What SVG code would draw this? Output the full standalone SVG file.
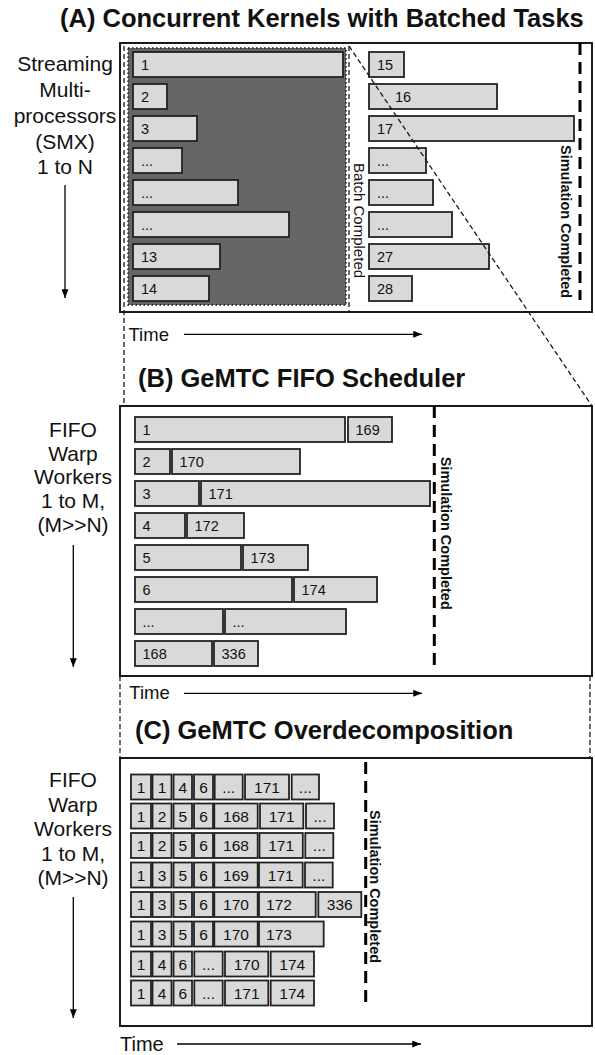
<svg xmlns="http://www.w3.org/2000/svg" width="595" height="1055" viewBox="0 0 595 1055">
  <defs>
    <marker id="arrow" viewBox="0 0 10 8" refX="10" refY="4" markerWidth="9" markerHeight="7" markerUnits="userSpaceOnUse" orient="auto">
      <path d="M0,0 L10,4 L0,8 z" fill="#000"/>
    </marker>
  </defs>
  <style>
    text { font-family: "Liberation Sans", Arial, sans-serif; fill: #111; }
    .title { font-size: 25.5px; font-weight: bold; }
    .side { font-size: 21px; text-anchor: middle; }
    .time { font-size: 18.5px; }
    .panel { fill: #fff; stroke: #1a1a1a; stroke-width: 2; }
    .bar { fill: #d9d9d9; stroke: #222; stroke-width: 1.8; }
    .t { font-size: 14.5px; }
    .c { font-size: 15.5px; text-anchor: middle; }
    .sim { stroke: #000; stroke-width: 3; stroke-dasharray: 12 7; fill: none; }
    .simtxt { font-size: 14.5px; font-weight: bold; }
    .lens { stroke: #1a1a1a; stroke-width: 1.3; stroke-dasharray: 5 3; fill: none; }
    .axis { stroke: #000; stroke-width: 1.3; fill: none; }
  </style>

  <!-- titles -->
  <text class="title" x="60" y="27">(A) Concurrent Kernels with Batched Tasks</text>
  <text class="title" x="138" y="387">(B) GeMTC FIFO Scheduler</text>
  <text class="title" x="135" y="738.5">(C) GeMTC Overdecomposition</text>

  <!-- side labels and worker axes -->
  <g id="axis-a">
    <text class="side" x="65" y="71">Streaming</text>
    <text class="side" x="65" y="97">Multi-</text>
    <text class="side" x="65" y="122.5">processors</text>
    <text class="side" x="65" y="148.5">(SMX)</text>
    <text class="side" x="65" y="174">1 to N</text>
    <line class="axis" x1="65" y1="185" x2="65" y2="298" marker-end="url(#arrow)"/>
    <text class="time" x="128.5" y="340.7">Time</text>
    <line class="axis" x1="184" y1="334.3" x2="422" y2="334.3" marker-end="url(#arrow)"/>
  </g>
  <g id="axis-b">
    <text class="side" x="73" y="436.5">FIFO</text>
    <text class="side" x="73" y="460.5">Warp</text>
    <text class="side" x="73" y="484">Workers</text>
    <text class="side" x="73" y="508">1 to M,</text>
    <text class="side" x="73" y="532">(M&gt;&gt;N)</text>
    <line class="axis" x1="73.3" y1="545" x2="73.3" y2="667" marker-end="url(#arrow)"/>
    <text class="time" x="129.3" y="699">Time</text>
    <line class="axis" x1="184" y1="693.3" x2="422" y2="693.3" marker-end="url(#arrow)"/>
  </g>
  <g id="axis-c">
    <text class="side" x="73" y="787">FIFO</text>
    <text class="side" x="73" y="811.5">Warp</text>
    <text class="side" x="73" y="836">Workers</text>
    <text class="side" x="73" y="860.5">1 to M,</text>
    <text class="side" x="73" y="885">(M&gt;&gt;N)</text>
    <line class="axis" x1="73.3" y1="897" x2="73.3" y2="1018" marker-end="url(#arrow)"/>
    <text class="time" x="120" y="1051" style="font-size:20px">Time</text>
    <line class="axis" x1="177" y1="1044" x2="421" y2="1044" marker-end="url(#arrow)"/>
  </g>

  <!-- (A) concurrent kernels -->
  <g id="panel-a">
    <rect class="panel" x="120" y="43" width="472" height="269"/>
    <rect x="128" y="48" width="218" height="257" fill="#666" stroke="#111" stroke-width="1.5" stroke-dasharray="1.5 2.5"/>
    <g id="batch-1">
      <rect class="bar" x="133" y="52" width="210" height="25"/><text class="t" x="141" y="69.5">1</text>
      <rect class="bar" x="133" y="84" width="34" height="25"/><text class="t" x="141" y="101.5">2</text>
      <rect class="bar" x="133" y="116" width="64" height="25"/><text class="t" x="141" y="133.5">3</text>
      <rect class="bar" x="133" y="148" width="49" height="25"/><text class="t" x="141" y="165.5">...</text>
      <rect class="bar" x="133" y="180" width="105" height="25"/><text class="t" x="141" y="197.5">...</text>
      <rect class="bar" x="133" y="212" width="156" height="25"/><text class="t" x="141" y="229.5">...</text>
      <rect class="bar" x="133" y="244" width="87" height="25"/><text class="t" x="141" y="261.5">13</text>
      <rect class="bar" x="133" y="276" width="76" height="25"/><text class="t" x="141" y="293.5">14</text>
    </g>
    <g id="batch-2">
      <rect class="bar" x="369" y="52" width="35" height="25"/><text class="t" x="377" y="69.5">15</text>
      <rect class="bar" x="369" y="84" width="128" height="25"/><text class="t" x="395" y="101.5">16</text>
      <rect class="bar" x="369" y="116" width="205" height="25"/><text class="t" x="377" y="133.5">17</text>
      <rect class="bar" x="369" y="148" width="57" height="25"/><text class="t" x="377" y="165.5">...</text>
      <rect class="bar" x="369" y="180" width="64" height="25"/><text class="t" x="377" y="197.5">...</text>
      <rect class="bar" x="369" y="212" width="83" height="25"/><text class="t" x="377" y="229.5">...</text>
      <rect class="bar" x="369" y="244" width="120" height="25"/><text class="t" x="377" y="261.5">27</text>
      <rect class="bar" x="369" y="276" width="43" height="25"/><text class="t" x="377" y="293.5">28</text>
    </g>
    <text x="354" y="163" transform="rotate(90 354 163)" style="font-size:15px">Batch Completed</text>
    <line class="sim" x1="580" y1="43" x2="580" y2="300"/>
    <text class="simtxt" x="561" y="145" transform="rotate(90 561 145)">Simulation Completed</text>
  </g>

  <!-- (B) FIFO scheduler -->
  <g id="panel-b">
    <rect class="panel" x="120" y="406" width="472" height="270"/>
    <rect class="bar" x="135" y="417" width="210" height="25"/><text class="t" x="142.5" y="434.5">1</text>
    <rect class="bar" x="348" y="417" width="44" height="25"/><text class="t" x="355.5" y="434.5">169</text>
    <rect class="bar" x="135" y="449" width="35" height="25"/><text class="t" x="142.5" y="466.5">2</text>
    <rect class="bar" x="172" y="449" width="128" height="25"/><text class="t" x="179.5" y="466.5">170</text>
    <rect class="bar" x="135" y="481" width="64" height="25"/><text class="t" x="142.5" y="498.5">3</text>
    <rect class="bar" x="201" y="481" width="229" height="25"/><text class="t" x="208.5" y="498.5">171</text>
    <rect class="bar" x="135" y="513" width="50" height="25"/><text class="t" x="142.5" y="530.5">4</text>
    <rect class="bar" x="187" y="513" width="57" height="25"/><text class="t" x="194.5" y="530.5">172</text>
    <rect class="bar" x="135" y="545" width="106" height="25"/><text class="t" x="142.5" y="562.5">5</text>
    <rect class="bar" x="243" y="545" width="65" height="25"/><text class="t" x="250.5" y="562.5">173</text>
    <rect class="bar" x="135" y="577" width="157" height="25"/><text class="t" x="142.5" y="594.5">6</text>
    <rect class="bar" x="294" y="577" width="83" height="25"/><text class="t" x="301.5" y="594.5">174</text>
    <rect class="bar" x="135" y="609" width="88" height="25"/><text class="t" x="142.5" y="626.5">...</text>
    <rect class="bar" x="225" y="609" width="121" height="25"/><text class="t" x="232.5" y="626.5">...</text>
    <rect class="bar" x="135" y="641" width="77" height="25"/><text class="t" x="142.5" y="658.5">168</text>
    <rect class="bar" x="214" y="641" width="44" height="25"/><text class="t" x="221.5" y="658.5">336</text>
    <line class="sim" x1="434.3" y1="406" x2="434.3" y2="665"/>
    <text class="simtxt" x="440.5" y="456.7" transform="rotate(90 440.5 456.7)">Simulation Completed</text>
  </g>

  <!-- (C) overdecomposition -->
  <g id="panel-c">
    <rect class="panel" x="120" y="758" width="472" height="268"/>
    <g id="row-c1">
      <rect class="bar" x="131" y="774.5" width="20" height="25"/><text class="c" x="141" y="792.5">1</text>
      <rect class="bar" x="152.5" y="774.5" width="19" height="25"/><text class="c" x="162" y="792.5">1</text>
      <rect class="bar" x="173.5" y="774.5" width="18.5" height="25"/><text class="c" x="182.8" y="792.5">4</text>
      <rect class="bar" x="194" y="774.5" width="19" height="25"/><text class="c" x="203.5" y="792.5">6</text>
      <rect class="bar" x="214.7" y="774.5" width="28" height="25"/><text class="c" x="228.7" y="792.5">...</text>
      <rect class="bar" x="245" y="774.5" width="44" height="25"/><text class="c" x="267" y="792.5">171</text>
      <rect class="bar" x="291.7" y="774.5" width="27.3" height="25"/><text class="c" x="305.3" y="792.5">...</text>
    </g>
    <g id="row-c2">
      <rect class="bar" x="131" y="803.5" width="20" height="25"/><text class="c" x="141" y="821.5">1</text>
      <rect class="bar" x="152.5" y="803.5" width="19" height="25"/><text class="c" x="162" y="821.5">2</text>
      <rect class="bar" x="173.5" y="803.5" width="18.5" height="25"/><text class="c" x="182.8" y="821.5">5</text>
      <rect class="bar" x="194" y="803.5" width="19" height="25"/><text class="c" x="203.5" y="821.5">6</text>
      <rect class="bar" x="214.3" y="803.5" width="43.4" height="25"/><text class="c" x="236" y="821.5">168</text>
      <rect class="bar" x="260" y="803.5" width="43.3" height="25"/><text class="c" x="281.7" y="821.5">171</text>
      <rect class="bar" x="306" y="803.5" width="28" height="25"/><text class="c" x="320" y="821.5">...</text>
    </g>
    <g id="row-c3">
      <rect class="bar" x="131" y="833" width="20" height="25"/><text class="c" x="141" y="851">1</text>
      <rect class="bar" x="152.5" y="833" width="19" height="25"/><text class="c" x="162" y="851">2</text>
      <rect class="bar" x="173.5" y="833" width="18.5" height="25"/><text class="c" x="182.8" y="851">5</text>
      <rect class="bar" x="194" y="833" width="19" height="25"/><text class="c" x="203.5" y="851">6</text>
      <rect class="bar" x="214.3" y="833" width="43.4" height="25"/><text class="c" x="236" y="851">168</text>
      <rect class="bar" x="259.5" y="833" width="43.3" height="25"/><text class="c" x="281.2" y="851">171</text>
      <rect class="bar" x="305.3" y="833" width="28" height="25"/><text class="c" x="319.3" y="851">...</text>
    </g>
    <g id="row-c4">
      <rect class="bar" x="131" y="862.5" width="20" height="25"/><text class="c" x="141" y="880.5">1</text>
      <rect class="bar" x="152.5" y="862.5" width="19" height="25"/><text class="c" x="162" y="880.5">3</text>
      <rect class="bar" x="173.5" y="862.5" width="18.5" height="25"/><text class="c" x="182.8" y="880.5">5</text>
      <rect class="bar" x="194" y="862.5" width="19" height="25"/><text class="c" x="203.5" y="880.5">6</text>
      <rect class="bar" x="214.3" y="862.5" width="43.4" height="25"/><text class="c" x="236" y="880.5">169</text>
      <rect class="bar" x="259" y="862.5" width="43.7" height="25"/><text class="c" x="280.8" y="880.5">171</text>
      <rect class="bar" x="305" y="862.5" width="27.7" height="25"/><text class="c" x="318.8" y="880.5">...</text>
    </g>
    <g id="row-c5">
      <rect class="bar" x="131" y="892" width="20" height="25"/><text class="c" x="141" y="910">1</text>
      <rect class="bar" x="152.5" y="892" width="19" height="25"/><text class="c" x="162" y="910">3</text>
      <rect class="bar" x="173.5" y="892" width="18.5" height="25"/><text class="c" x="182.8" y="910">5</text>
      <rect class="bar" x="194" y="892" width="19" height="25"/><text class="c" x="203.5" y="910">6</text>
      <rect class="bar" x="214.3" y="892" width="43.4" height="25"/><text class="c" x="236" y="910">170</text>
      <rect class="bar" x="259" y="892" width="56.7" height="25"/><text class="c" x="279" y="910">172</text>
      <rect class="bar" x="318.3" y="892" width="43" height="25"/><text class="c" x="339.8" y="910">336</text>
    </g>
    <g id="row-c6">
      <rect class="bar" x="131" y="921.5" width="20" height="25"/><text class="c" x="141" y="939.5">1</text>
      <rect class="bar" x="152.5" y="921.5" width="19" height="25"/><text class="c" x="162" y="939.5">3</text>
      <rect class="bar" x="173.5" y="921.5" width="18.5" height="25"/><text class="c" x="182.8" y="939.5">5</text>
      <rect class="bar" x="194" y="921.5" width="19" height="25"/><text class="c" x="203.5" y="939.5">6</text>
      <rect class="bar" x="214.3" y="921.5" width="43.4" height="25"/><text class="c" x="236" y="939.5">170</text>
      <rect class="bar" x="259" y="921.5" width="64.7" height="25"/><text class="c" x="279" y="939.5">173</text>
    </g>
    <g id="row-c7">
      <rect class="bar" x="131" y="951.5" width="20" height="25"/><text class="c" x="141" y="969.5">1</text>
      <rect class="bar" x="152.5" y="951.5" width="19" height="25"/><text class="c" x="162" y="969.5">4</text>
      <rect class="bar" x="173.5" y="951.5" width="18.5" height="25"/><text class="c" x="182.8" y="969.5">6</text>
      <rect class="bar" x="194.3" y="951.5" width="28.4" height="25"/><text class="c" x="208.5" y="969.5">...</text>
      <rect class="bar" x="225" y="951.5" width="43.3" height="25"/><text class="c" x="246.7" y="969.5">170</text>
      <rect class="bar" x="270.7" y="951.5" width="43.3" height="25"/><text class="c" x="292.3" y="969.5">174</text>
    </g>
    <g id="row-c8">
      <rect class="bar" x="131" y="980.5" width="20" height="25"/><text class="c" x="141" y="998.5">1</text>
      <rect class="bar" x="152.5" y="980.5" width="19" height="25"/><text class="c" x="162" y="998.5">4</text>
      <rect class="bar" x="173.5" y="980.5" width="18.5" height="25"/><text class="c" x="182.8" y="998.5">6</text>
      <rect class="bar" x="194.3" y="980.5" width="28.4" height="25"/><text class="c" x="208.5" y="998.5">...</text>
      <rect class="bar" x="225" y="980.5" width="43.3" height="25"/><text class="c" x="246.7" y="998.5">171</text>
      <rect class="bar" x="270.7" y="980.5" width="43.3" height="25"/><text class="c" x="292.3" y="998.5">174</text>
    </g>
    <line class="sim" x1="365.7" y1="762" x2="365.7" y2="1008"/>
    <text class="simtxt" x="369.8" y="810" transform="rotate(90 369.8 810)">Simulation Completed</text>
  </g>

  <!-- zoom guides linking the panels -->
  <g id="connectors">
    <line class="lens" x1="124" y1="46" x2="124" y2="406"/>
    <line class="lens" x1="349" y1="46" x2="349" y2="312"/>
    <line class="lens" x1="349" y1="46" x2="592" y2="406"/>
    <line class="lens" x1="120" y1="676" x2="120" y2="758"/>
    <line class="lens" x1="590" y1="676" x2="590" y2="758"/>
  </g>
</svg>
